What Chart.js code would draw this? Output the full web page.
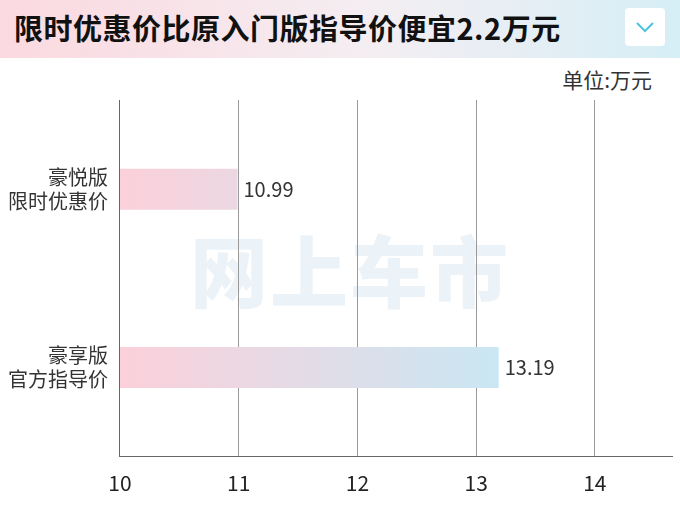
<!DOCTYPE html>
<html><head><meta charset="utf-8">
<script src="https://cdn.jsdelivr.net/npm/chart.js@4/dist/chart.umd.min.js"></script>
<style>
body{margin:0;width:680px;height:510px;background:#fff;font-family:"Noto Sans CJK SC";position:relative;overflow:hidden}
#title{position:absolute;left:0;top:0;width:680px;height:58px;background:linear-gradient(90deg,#fbd9e0,#f4eef2 55%,#d6eef6);}
#title span{position:absolute;left:14px;top:6px;font-size:29px;font-weight:bold;color:#111;letter-spacing:0.5px}
#dd{position:absolute;left:625px;top:8px;width:40px;height:38px;background:#fff;border-radius:4px}
#unit{position:absolute;right:28px;top:64px;font-size:21px;color:#333}
#wm{position:absolute;left:190px;top:212px;font-size:78px;font-weight:900;color:rgba(200,220,235,0.35);letter-spacing:2px}
#c{position:absolute;left:0;top:0}
</style></head><body>
<div id="title"><span>限时优惠价比原入门版指导价便宜2.2万元</span><div id="dd"><svg width="40" height="38"><polyline points="12,15 20,23 28,15" fill="none" stroke="#4cc4e0" stroke-width="2"/></svg></div></div>
<div id="unit">单位:万元</div>
<div id="wm">网上车市</div>
<canvas id="c" width="680" height="510"></canvas>
<script>
const categories=[["豪悦版","限时优惠价"],["豪享版","官方指导价"]];
const values=[10.99,13.19];
const tickLabels=[10,11,12,13,14];
const ctx=document.getElementById('c');
const valPlugin={id:'v',afterDatasetsDraw(ch){const c=ch.ctx;const m=ch.getDatasetMeta(0);c.save();c.font='20px "Noto Sans CJK SC"';c.fillStyle='#333';c.textBaseline='middle';m.data.forEach((b,i)=>{c.fillText(values[i].toFixed(2),b.x+6,b.y);});c.restore();}};
new Chart(ctx,{type:'bar',data:{labels:categories,datasets:[{data:values,barPercentage:0.23,categoryPercentage:1,
backgroundColor:(c)=>{const a=c.chart.chartArea;if(!a)return '#f9d';const g=c.chart.ctx.createLinearGradient(a.left,0,a.left+390,0);g.addColorStop(0,'#fbd0da');g.addColorStop(1,'#c8e8f4');return g;}}]},
options:{indexAxis:'y',responsive:false,animation:false,layout:{padding:{top:100,right:8,left:4,bottom:0}},
plugins:{legend:{display:false},tooltip:{enabled:false}},
scales:{x:{min:10,max:14.65,afterBuildTicks:(s)=>{s.ticks=tickLabels.map(v=>({value:v}));},
grid:{color:'#999',lineWidth:1,drawTicks:false},border:{color:'#666'},
ticks:{padding:14,color:'#222',font:{size:21,family:'Noto Sans CJK SC'}}},
y:{grid:{display:false},border:{color:'#666'},ticks:{color:'#333',padding:4,font:{size:20,family:'Noto Sans CJK SC'}}}}},
plugins:[valPlugin]});
</script></body></html>
